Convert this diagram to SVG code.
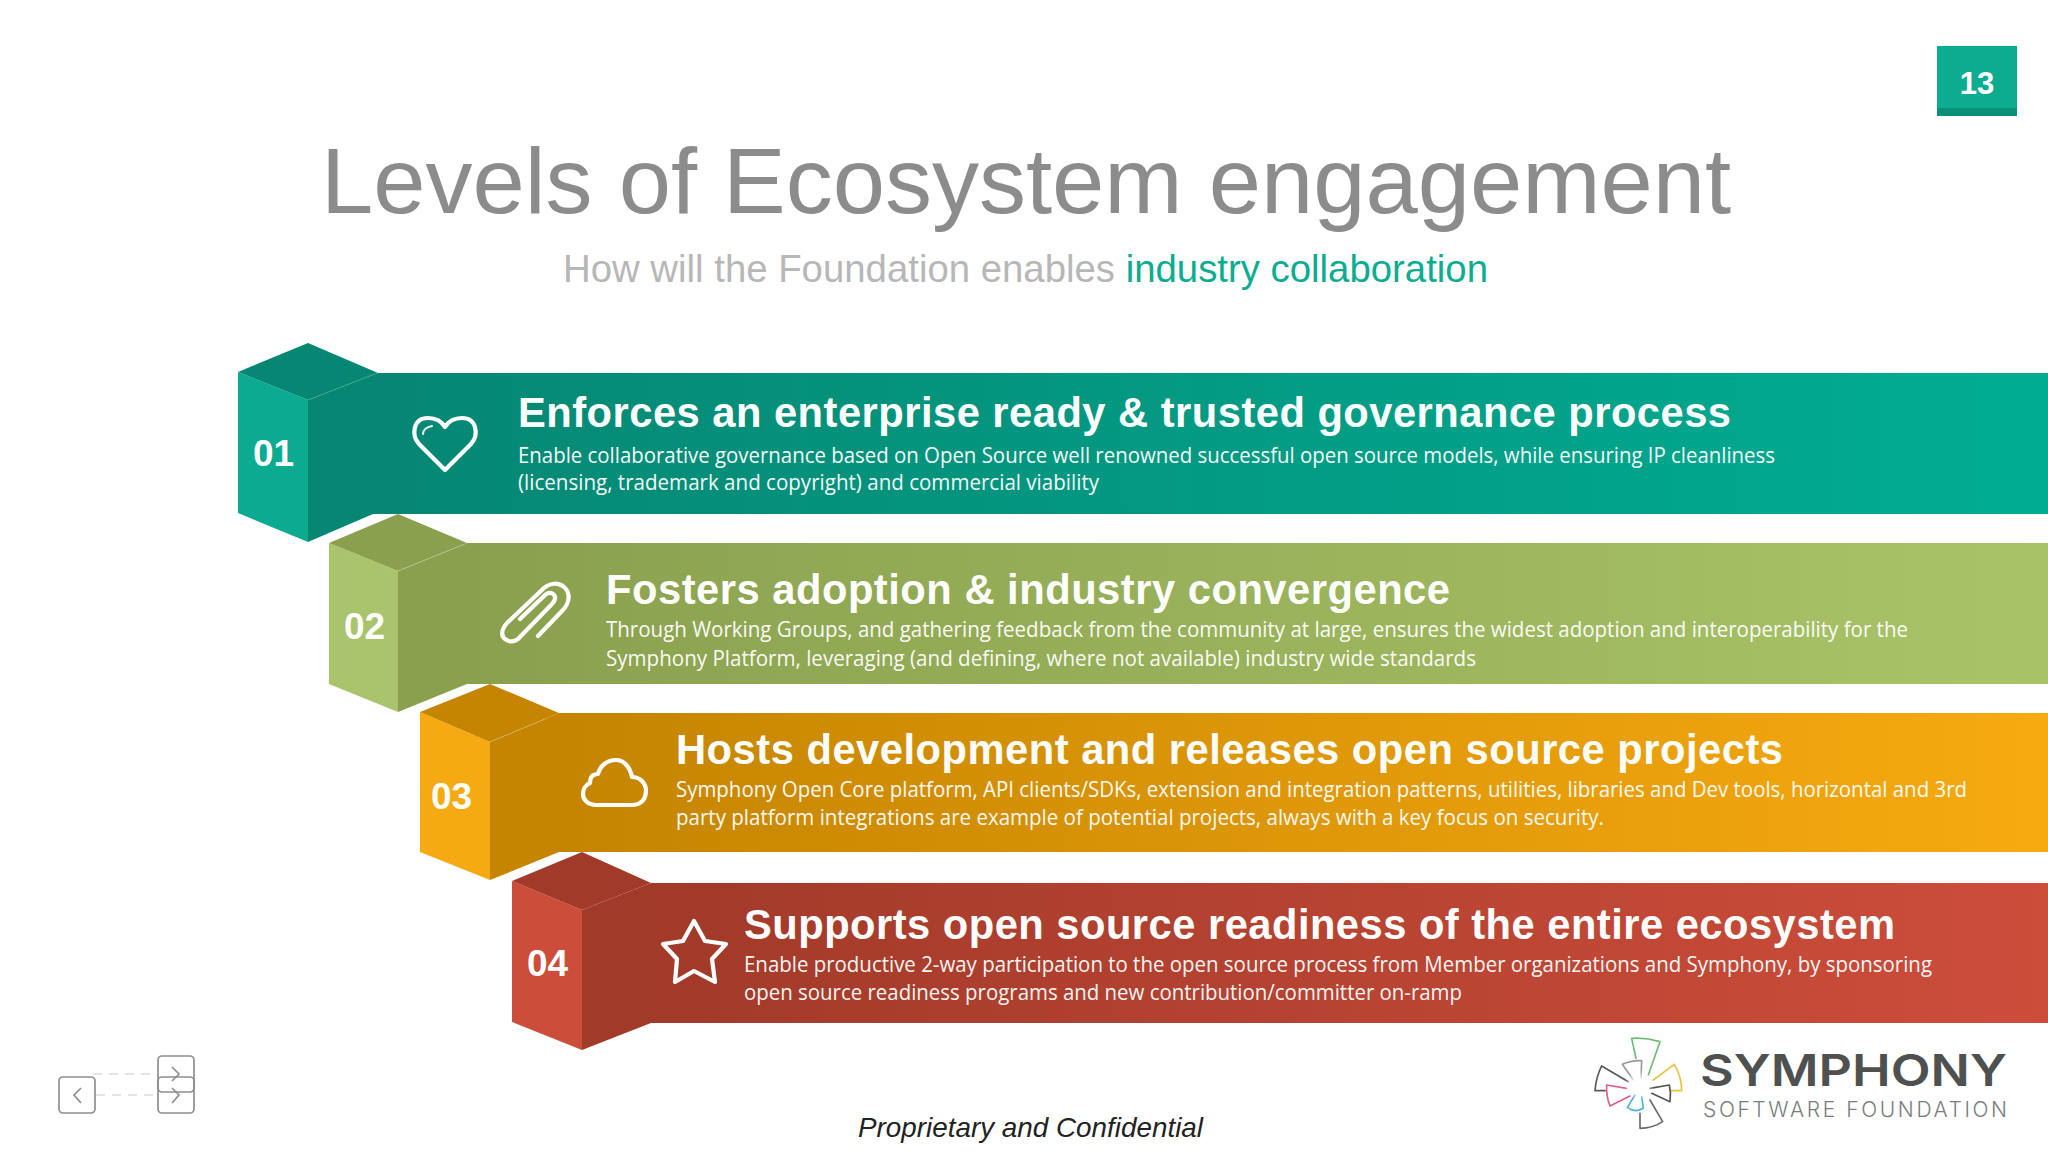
<svg xmlns="http://www.w3.org/2000/svg" width="2048" height="1152" viewBox="0 0 2048 1152">
<style>
.h{font:bold 41.7px "Liberation Sans",Arial,sans-serif;fill:#fff}
.b{font:21px "Open Sans","Noto Sans",sans-serif;fill:#fff;opacity:.95}
.n{font:bold 37px "Liberation Sans",Arial,sans-serif;fill:#fff}
.i{fill:none;stroke:#fff;stroke-width:4.2;stroke-linejoin:round;stroke-linecap:round}
.seam{fill:none;stroke:#fff;stroke-opacity:.22;stroke-width:1}
.nav{fill:none;stroke:#8f8f8f;stroke-width:1.7}
.dash{fill:none;stroke:#dcdcdc;stroke-width:1.7;stroke-dasharray:9 7}
.lg{fill:none;stroke-width:5;stroke-linejoin:round;stroke-linecap:round}
</style>
<defs>
<linearGradient id="g1" gradientUnits="userSpaceOnUse" x1="380" y1="0" x2="2048" y2="0"><stop offset="0" stop-color="#068773"/><stop offset="1" stop-color="#00ad93"/></linearGradient>
<linearGradient id="g2" gradientUnits="userSpaceOnUse" x1="470" y1="0" x2="2048" y2="0"><stop offset="0" stop-color="#8aa04e"/><stop offset="1" stop-color="#a9c468"/></linearGradient>
<linearGradient id="g3" gradientUnits="userSpaceOnUse" x1="560" y1="0" x2="2048" y2="0"><stop offset="0" stop-color="#c58500"/><stop offset="1" stop-color="#f7aa10"/></linearGradient>
<linearGradient id="g4" gradientUnits="userSpaceOnUse" x1="650" y1="0" x2="2048" y2="0"><stop offset="0" stop-color="#a23a29"/><stop offset="1" stop-color="#cd4d3b"/></linearGradient>
<radialGradient id="fade"><stop offset="0.35" stop-color="#fff"/><stop offset="1" stop-color="#fff" stop-opacity="0"/></radialGradient>
</defs>
<rect width="2048" height="1152" fill="#fff"/>

<g id="page-number">
<rect x="1937" y="46" width="80" height="70" fill="#0cac90"/>
<rect x="1937" y="108" width="80" height="8" fill="#0b8f78"/>
<text x="1977" y="94" text-anchor="middle" style="font:bold 31px 'Liberation Sans',sans-serif;fill:#fff">13</text>
</g>

<g id="title">
<text x="321" y="213" textLength="1410" lengthAdjust="spacingAndGlyphs" style="font:92px 'Liberation Sans',Arial,sans-serif;fill:#8c8c8c">Levels of Ecosystem engagement</text>
<text x="563" y="282" textLength="925" lengthAdjust="spacingAndGlyphs" style="font:38.4px 'Liberation Sans',Arial,sans-serif;fill:#b7b7b7">How will the Foundation enables <tspan fill="#0cac90">industry collaboration</tspan></text>
</g>

<g id="step-1">
<polygon points="238,372 308,400 308,542 238,513" fill="#0aab91"/>
<polygon points="308,400 378,373 2048,373 2048,514 373,514 308,542" fill="url(#g1)"/>
<polygon points="238,372 308,343 378,373 308,400" fill="#068773"/>
<path class="seam" style="stroke-opacity:.1" d="M308 400L376 373"/>
<text class="n" x="253" y="466">01</text>
<path class="i" d="M445 470L419 444C411 435 413 418 428 418C436 418 442 422 445 427C448 422 454 418 462 418C477 418 479 435 471 444Z"/>
<path class="i" style="stroke-width:2" d="M423 434C423 430 427 427 432 426"/>
<text class="h" x="518" y="427" textLength="1213" lengthAdjust="spacing">Enforces an enterprise ready &amp; trusted governance process</text>
<text class="b" x="518" y="463" textLength="1257" lengthAdjust="spacingAndGlyphs">Enable collaborative governance based on Open Source well renowned successful open source models, while ensuring IP cleanliness</text>
<text class="b" x="518" y="490" textLength="581" lengthAdjust="spacingAndGlyphs">(licensing, trademark and copyright) and commercial viability</text>
</g>

<g id="step-2">
<polygon points="329,543 398,571 398,712 329,684" fill="#a9c46c"/>
<polygon points="398,571 467,543 2048,543 2048,684 467,684 398,712" fill="url(#g2)"/>
<polygon points="329,543 398,514 467,543 398,571" fill="#8aa04e"/>
<path class="seam" d="M398 571L465 544"/>
<text class="n" x="344" y="639">02</text>
<path class="i" d="M538 636L562 611C571 602 570 592 564 587C558 582 550 583 544 588L507 623C501 630 501 636 505 639C509 642 514 642 518 639L552 604C556 600 556 596 553 594C550 592 547 593 544 596L520 619"/>
<text class="h" x="606" y="604" textLength="844" lengthAdjust="spacing">Fosters adoption &amp; industry convergence</text>
<text class="b" x="606" y="637" textLength="1302" lengthAdjust="spacingAndGlyphs">Through Working Groups, and gathering feedback from the community at large, ensures the widest adoption and interoperability for the</text>
<text class="b" x="606" y="666" textLength="870" lengthAdjust="spacingAndGlyphs">Symphony Platform, leveraging (and defining, where not available) industry wide standards</text>
</g>

<g id="step-3">
<polygon points="420,712 490,742 490,880 420,852" fill="#f6aa12"/>
<polygon points="490,742 559,713 2048,713 2048,852 559,852 490,880" fill="url(#g3)"/>
<polygon points="420,712 490,684 559,713 490,742" fill="#c58500"/>
<path class="seam" d="M490 742L545 719"/>
<text class="n" x="431" y="809">03</text>
<path class="i" d="M596 805H632C642 805 646 798 646 791C646 783 640 777 632 777C630 767 624 760 616 760C607 760 600 766 598 774C592 774 590 778 590 783C585 785 583 790 583 794C583 800 588 805 596 805Z"/>
<text class="h" x="676" y="764" textLength="1107" lengthAdjust="spacing">Hosts development and releases open source projects</text>
<text class="b" x="676" y="797" textLength="1291" lengthAdjust="spacingAndGlyphs">Symphony Open Core platform, API clients/SDKs, extension and integration patterns, utilities, libraries and Dev tools, horizontal and 3rd</text>
<text class="b" x="676" y="825" textLength="928" lengthAdjust="spacingAndGlyphs">party platform integrations are example of potential projects, always with a key focus on security.</text>
</g>

<g id="step-4">
<polygon points="512,881 582,910 582,1050 512,1022" fill="#cb4d3a"/>
<polygon points="582,910 651,883 2048,883 2048,1023 651,1023 582,1050" fill="url(#g4)"/>
<polygon points="512,881 582,852 651,883 582,910" fill="#a23a29"/>
<text class="n" x="527" y="976">04</text>
<polygon class="i" points="694,921 705,941 726,944 712,959 715,982 694,971 675,982 677,959 663,944 683,941"/>
<text class="h" x="744" y="939" textLength="1151" lengthAdjust="spacing">Supports open source readiness of the entire ecosystem</text>
<text class="b" x="744" y="972" textLength="1188" lengthAdjust="spacingAndGlyphs">Enable productive 2-way participation to the open source process from Member organizations and Symphony, by sponsoring</text>
<text class="b" x="744" y="1000" textLength="718" lengthAdjust="spacingAndGlyphs">open source readiness programs and new contribution/committer on-ramp</text>
</g>

<g id="nav-icon">
<path class="dash" d="M93 1074H158M96 1095H158"/>
<rect class="nav" x="59" y="1077" width="36" height="36" rx="4"/>
<rect class="nav" x="158" y="1056" width="36" height="36" rx="4"/>
<rect class="nav" x="158" y="1077" width="36" height="36" rx="4"/>
<path class="nav" d="M81 1088L74 1095L81 1103M172 1067L179 1074L172 1081M172 1088L179 1095L172 1103"/>
</g>

<g id="logo">
<g transform="translate(1580 1020) scale(.3333)">
<path class="lg" stroke="#6dbb74" d="M168 115L155 55Q198 52 240 65L205 165"/>
<path class="lg" stroke="#9a9a9a" d="M160 180L127 133Q155 120 185 122L183 180"/>
<path class="lg" stroke="#e8c33f" d="M220 180L283 133Q305 170 305 212L275 212"/>
<path class="lg" stroke="#555" d="M210 205L268 195Q274 220 270 245L215 220"/>
<path class="lg" stroke="#4fb4d6" d="M165 225L142 262Q165 280 190 265L185 230"/>
<path class="lg" stroke="#6b6b6b" d="M180 280L180 325Q218 325 248 305L210 240"/>
<path class="lg" stroke="#dd5f8f" d="M140 205L80 195Q78 228 90 258L150 228"/>
<path class="lg" stroke="#5a5a5a" d="M145 185L65 138Q48 172 45 212L75 212"/>
<circle cx="178" cy="195" r="45" fill="url(#fade)"/>
</g>
<text x="1700" y="1086" textLength="307" lengthAdjust="spacingAndGlyphs" style="font:600 44px Inter,'Liberation Sans',sans-serif;fill:#4f5150">SYMPHONY</text>
<text x="1703" y="1117" textLength="304" lengthAdjust="spacing" style="font:300 21px Inter,'Liberation Sans',sans-serif;fill:#7b7d7c">SOFTWARE FOUNDATION</text>
</g>

<g id="footer">
<text x="858" y="1137" textLength="345" lengthAdjust="spacingAndGlyphs" style="font:italic 27.8px 'Liberation Sans',Arial,sans-serif;fill:#222">Proprietary and Confidential</text>
</g>
</svg>
